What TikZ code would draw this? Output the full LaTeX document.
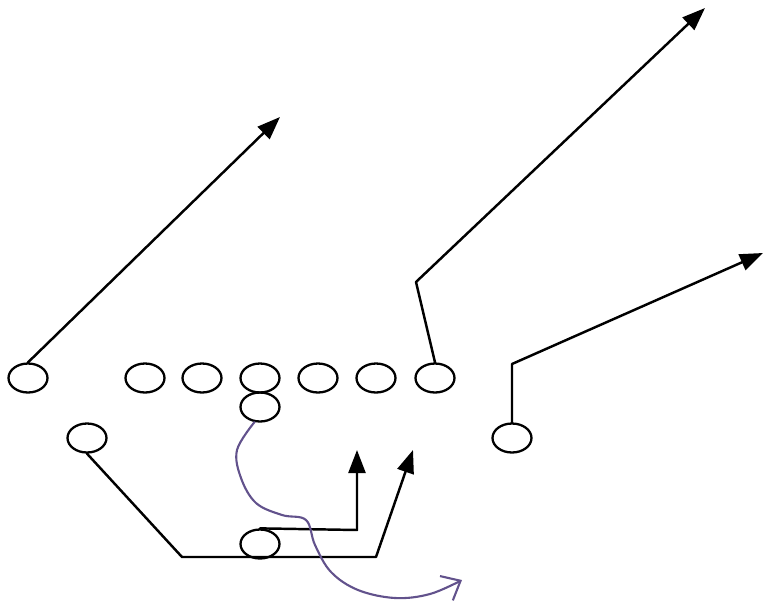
\documentclass[tikz,border=0pt]{standalone}
\usetikzlibrary{arrows.meta,shapes.geometric}
\definecolor{penpurple}{RGB}{98,82,140}
\tikzset{
	player/.style={ellipse, draw, line width=1.3pt, minimum width=0.78cm, minimum height=0.58cm, inner sep=0pt},
	route/.style={line width=1.4pt, -{Triangle[length=0.46cm,width=0.34cm]}},
	scramble/.style={penpurple, line width=1.2pt, -{Straight Barb[length=0.32cm,width=0.55cm]}}
}
\begin{document}
\begin{tikzpicture}[x=0.02cm, y=-0.02cm, line join=round, line cap=round]
	\useasboundingbox (0,0) rectangle (765,603);
	% 1. HÀNG TRƯỚC
	\node[player] (LE) at (28,378) {};
	\foreach \n/\x in {LT/145, LG/202, C/260, RG/318, RT/376}
		\node[player] (\n) at (\x,378) {};
	\node[player] (TE) at (435,378) {};
	
	% 2. HẬU VỆ
	\node[player] (QB) at (260,407) {};
	\node[player] (HB) at (87,438) {};
	\node[player] (SL) at (512,438) {};
	\node[player] (FB) at (260,544) {};
	
	% 3. ĐIỂM GÃY VÀ ĐIỂM ĐÍCH
	\coordinate (LEt) at (280,117);
	\coordinate (TEb) at (416,282); \coordinate (TEt) at (705,8);
	\coordinate (SLb) at (512,364); \coordinate (SLt) at (763,253);
	\coordinate (HBa) at (182,557); \coordinate (HBb) at (376,557); \coordinate (HBt) at (413,450);
	\coordinate (FBb) at (357,530); \coordinate (FBt) at (357,450);
	
	% 4. ĐƯỜNG CHẠY
	\draw[route] (LE.north) -- (LEt);
	\draw[route] (TE.north) -- (TEb) -- (TEt);
	\draw[route] (SL.north) -- (SLb) -- (SLt);
	\draw[route] (HB.south) -- (HBa) -- (HBb) -- (HBt);
	\draw[route] (FB.north) -- (FBb) -- (FBt);
	
	% 5. NÉT VẼ TAY
	\draw[scramble] plot[smooth, tension=0.6] coordinates {(QB.250) (237,450) (241,478) (256,503) (282,515) (306,520) (315,545) (331,572) (358,590) (395,598) (430,594) (462,580)};
\end{tikzpicture}
\end{document}
